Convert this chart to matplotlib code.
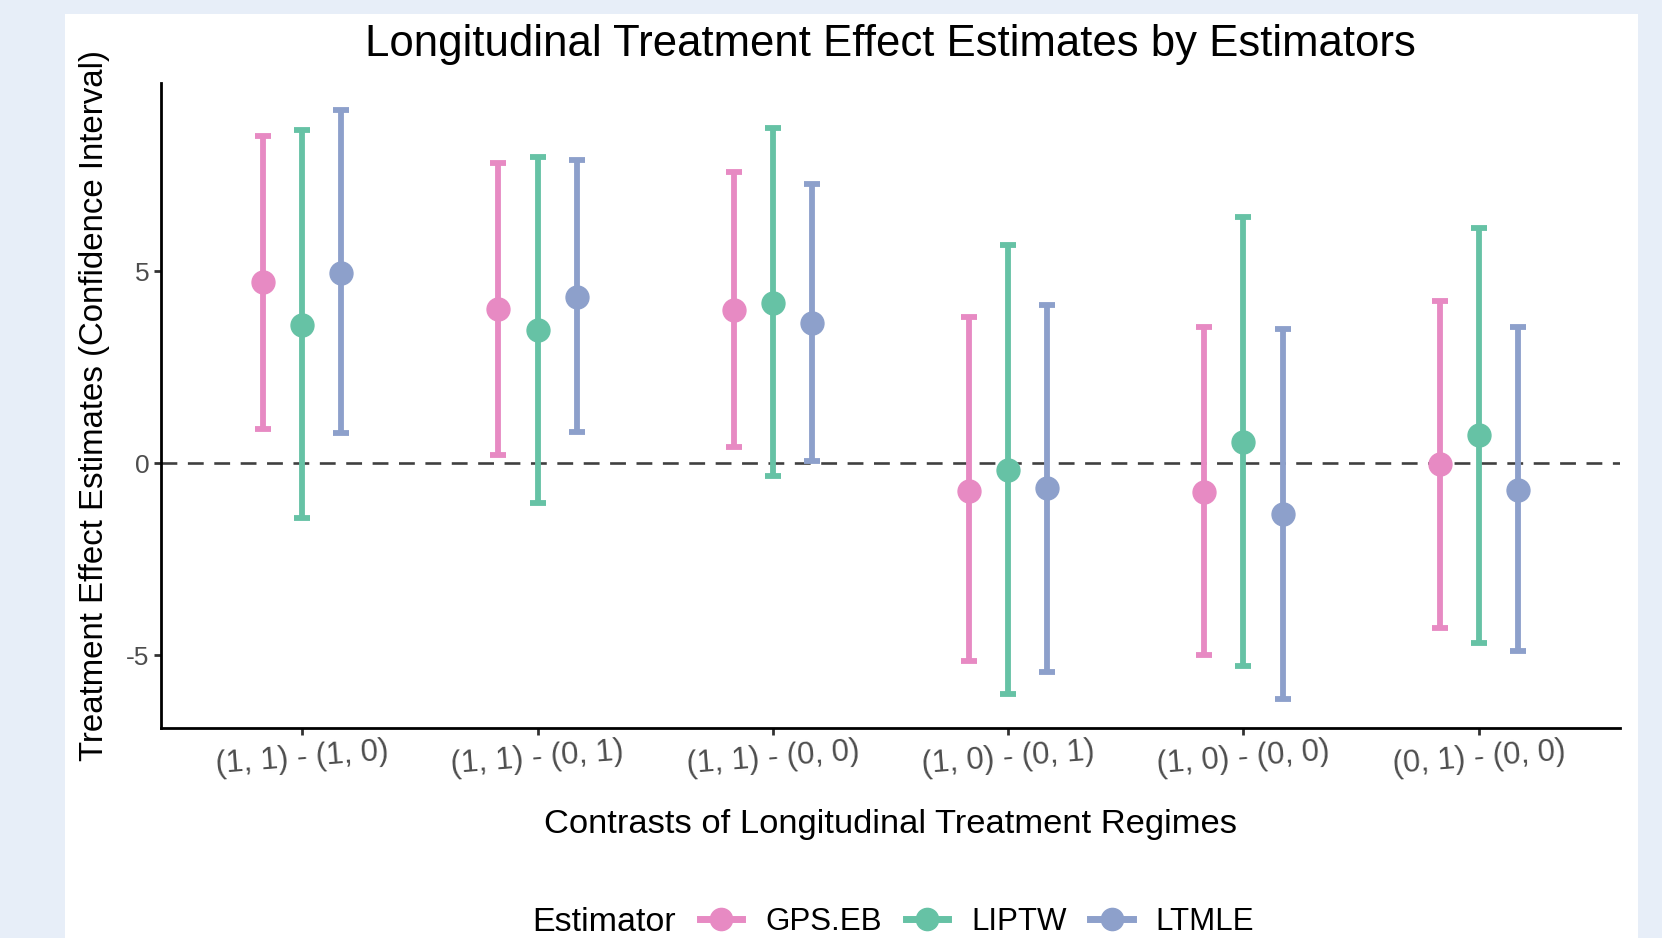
import matplotlib.pyplot as plt
from matplotlib.lines import Line2D
from matplotlib.patches import Rectangle
import numpy as np

plt.rcParams['font.family'] = ['Liberation Sans', 'DejaVu Sans']

# Datos
contrastes = ['(1, 1) - (1, 0)', '(1, 1) - (0, 1)', '(1, 1) - (0, 0)',
              '(1, 0) - (0, 1)', '(1, 0) - (0, 0)', '(0, 1) - (0, 0)']
estimadores = ['GPS.EB', 'LIPTW', 'LTMLE']
colores = ['#E78AC3', '#66C2A5', '#8DA0CB']

gps_est = [4.71, 4.02, 3.99, -0.72, -0.75, -0.03]
gps_low = [0.89, 0.22, 0.42, -5.15, -5.01, -4.29]
gps_up = [8.53, 7.81, 7.59, 3.80, 3.55, 4.21]

liptw_est = [3.60, 3.46, 4.18, -0.17, 0.55, 0.72]
liptw_low = [-1.44, -1.05, -0.33, -6.01, -5.29, -4.68]
liptw_up = [8.67, 7.98, 8.73, 5.68, 6.40, 6.12]

ltmle_est = [4.96, 4.32, 3.66, -0.66, -1.33, -0.69]
ltmle_low = [0.78, 0.80, 0.06, -5.43, -6.15, -4.90]
ltmle_up = [9.20, 7.89, 7.26, 4.13, 3.49, 3.55]

series = [(gps_est, gps_low, gps_up),
          (liptw_est, liptw_low, liptw_up),
          (ltmle_est, ltmle_low, ltmle_up)]

fig = plt.figure(figsize=(16.62, 9.38), dpi=100)
fig.patch.set_facecolor('#E7EEF8')
fig.patches.append(Rectangle((0.0391, 0), 0.9465, 0.985, transform=fig.transFigure,
                             facecolor='white', edgecolor='none', zorder=-10))

ax = fig.add_axes([0.0969, 0.2239, 0.8778, 0.6876])
ax.set_facecolor('none')
ax.set_zorder(1)

x = np.arange(1, len(contrastes) + 1)
desp = [-1 / 6, 0, 1 / 6]
for i, (est, low, up) in enumerate(series):
    est = np.array(est)
    low = np.array(low)
    up = np.array(up)
    xi = x + desp[i]
    ax.errorbar(xi, est, yerr=[est - low, up - est], fmt='none', ecolor=colores[i],
                elinewidth=4.2, capsize=5.5, capthick=4.2, zorder=3)
    ax.plot(xi, est, 'o', color=colores[i], markersize=16.5, zorder=4)

ax.axhline(0, color='#404040', lw=1.9, linestyle=(0, (6, 4)), zorder=2)

ax.set_xlim(0.4, 6.6)
ax.set_ylim(-6.9, 9.9)
ax.set_yticks([-5, 0, 5])
ax.set_yticklabels(['-5', '0', '5'])
ax.set_xticks(x)
ax.set_xticklabels(contrastes, rotation=4.5, fontsize=22.5, color='#4D4D4D')
ax.tick_params(axis='y', labelsize=19, labelcolor='#4D4D4D', length=5, width=2, color='#333333')
ax.tick_params(axis='x', length=5, width=2, color='#333333', pad=1)

for s in ['top', 'right']:
    ax.spines[s].set_visible(False)
for s in ['left', 'bottom']:
    ax.spines[s].set_linewidth(2)
    ax.spines[s].set_color('black')

fig.text(0.5355, 0.953, 'Longitudinal Treatment Effect Estimates by Estimators',
         ha='center', va='center', fontsize=31.5)
fig.text(0.5355, 0.1215, 'Contrasts of Longitudinal Treatment Regimes',
         ha='center', va='center', fontsize=24.8)
fig.text(0.057, 0.568, 'Treatment Effect Estimates (Confidence Interval)',
         ha='center', va='center', rotation=90, fontsize=23.8)

# Leyenda
handles = [Line2D([], [], color=c, lw=5, marker='o', markersize=16) for c in colores]
fig.text(0.32, 0.017, 'Estimator', ha='left', va='center', fontsize=24.5)
fig.legend(handles, estimadores, loc='center left', bbox_to_anchor=(0.421, 0.017),
           ncol=3, frameon=False, fontsize=22.5, handlelength=1.35, columnspacing=0.77,
           handletextpad=0.74, borderpad=0, borderaxespad=0)

fig.savefig('out.png', dpi=100, facecolor=fig.get_facecolor())
